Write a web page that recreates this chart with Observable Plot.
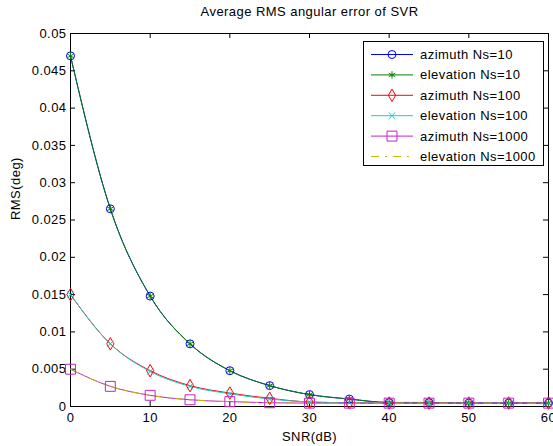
<!DOCTYPE html>
<html><head><meta charset="utf-8">
<script src="https://cdn.jsdelivr.net/npm/d3@7"></script>
<script src="https://cdn.jsdelivr.net/npm/@observablehq/plot@0.6"></script>
<style>body{margin:0;background:#fff} svg text{letter-spacing:0.45px}</style>
</head><body><div id="chart"></div>
<script>
const snr = [0,5,10,15,20,25,30,35,40,45,50,55,60];
const azNs10  = [0.0470,0.0265,0.0148,0.0084,0.0048,0.0028,0.0016,0.0010,0.00054,0.00054,0.00046,0.00046,0.00046];
const elNs10  = [0.0470,0.0265,0.0148,0.0084,0.0048,0.0028,0.0016,0.0010,0.00054,0.00054,0.00046,0.00046,0.00046];
const azNs100 = [0.0150,0.0084,0.0048,0.0028,0.0018,0.0011,0.0006,0.0005,0.00046,0.00046,0.00046,0.00046,0.00046];
const elNs100 = [0.0150,0.0084,0.0047,0.0027,0.0017,0.0010,0.0006,0.0005,0.00046,0.00046,0.00046,0.00046,0.00046];
const azNs1000= [0.0050,0.0027,0.0015,0.0009,0.00065,0.0005,0.00045,0.00045,0.00045,0.00045,0.00045,0.00045,0.00045];
const elNs1000= [0.0050,0.0027,0.0015,0.0009,0.00065,0.0005,0.00045,0.00045,0.00045,0.00045,0.00045,0.00045,0.00045];
const seriesNames = ["azimuth Ns=10","elevation Ns=10","azimuth Ns=100","elevation Ns=100","azimuth Ns=1000","elevation Ns=1000"];
const seriesValues = [azNs10, elNs10, azNs100, elNs100, azNs1000, elNs1000];
const colors = ["#0000ff","#008000","#ff0000","#20c8c8","#c820c8","#bfbf00"];
const symbols = ["circle","asterisk","diamond","times","square",null];
const symR = [4,3.5,3.8,3,5.6,0];
const dashes = [null,null,null,null,null,"8,6,2,6"];
const xTicks = [0,10,20,30,40,50,60];
const yTicks = [0,0.005,0.01,0.015,0.02,0.025,0.03,0.035,0.04,0.045,0.05];
const yTickLabels = ["0","0.005","0.01","0.015","0.02","0.025","0.03","0.035","0.04","0.045","0.05"];
const title = "Average RMS angular error of SVR";
const xLabel = "SNR(dB)";
const yLabel = "RMS(deg)";

const rows = [];
seriesNames.forEach((name, i) => snr.forEach((s, j) => rows.push({series: name, i, snr: s, v: seriesValues[i][j]})));

const font = "Liberation Sans, Arial, sans-serif";
const W = 553, H = 446, mL = 70, mR = 5, mT = 33, mB = 40;
const fw = W - mL - mR, fh = H - mT - mB;

const marks = [
  Plot.frame({stroke: "#000", strokeWidth: 1}),
  Plot.tickX(xTicks, {x: d => d, insetTop: fh - 5, stroke: "#000"}),
  Plot.tickX(xTicks, {x: d => d, insetBottom: fh - 5, stroke: "#000"}),
  Plot.tickY(yTicks, {y: d => d, insetRight: fw - 5, stroke: "#000"}),
  Plot.tickY(yTicks, {y: d => d, insetLeft: fw - 5, stroke: "#000"}),
  Plot.axisX(xTicks, {tickSize: 0, tickPadding: 6, fontSize: 13, label: null, tickFormat: d => String(d)}),
  Plot.axisY(yTicks, {tickSize: 0, tickPadding: 4, fontSize: 13, label: null, tickFormat: (d, k) => yTickLabels[k]}),
  Plot.text([xLabel], {frameAnchor: "bottom", dy: 34, fontSize: 13}),
  Plot.text([yLabel], {frameAnchor: "left", dx: -55, rotate: -90, fontSize: 13}),
  Plot.text([title], {frameAnchor: "top", dy: -27, fontSize: 13}),
];
seriesNames.forEach((name, i) => {
  const d = rows.filter(r => r.i === i);
  marks.push(Plot.line(d, {x: "snr", y: "v", stroke: colors[i], strokeWidth: 1, curve: "monotone-x", strokeDasharray: dashes[i]}));
});
seriesNames.forEach((name, i) => {
  if (!symbols[i]) return;
  const d = rows.filter(r => r.i === i);
  marks.push(Plot.dot(d, {x: "snr", y: "v", stroke: colors[i], symbol: () => symbols[i], r: symR[i], strokeWidth: 1, fill: "none"}));
});

const plot = Plot.plot({
  width: W, height: H, marginLeft: mL, marginRight: mR, marginTop: mT, marginBottom: mB,
  style: {fontFamily: font, fontSize: "13px", background: "#fff", color: "#000", overflow: "visible"},
  x: {domain: [0, 60]},
  y: {domain: [0, 0.05]},
  symbol: {type: "identity"},
  marks
});

const svg = d3.select(plot);
const lg = svg.append("g").attr("font-family", font).attr("font-size", 13).attr("text-anchor", "start");
const lx = 363, ly = 41, lw = 180, lh = 124;
lg.append("rect").attr("x", lx + 0.5).attr("y", ly + 0.5).attr("width", lw).attr("height", lh).attr("fill", "#fff").attr("stroke", "#000");
const symMap = {circle: d3.symbolCircle, asterisk: d3.symbolAsterisk, diamond: d3.symbolDiamond, times: d3.symbolTimes, square: d3.symbolSquare};
seriesNames.forEach((name, i) => {
  const yy = ly + 13.5 + i * 20.4;
  lg.append("line").attr("x1", lx + 8).attr("x2", lx + 50).attr("y1", yy).attr("y2", yy)
    .attr("stroke", colors[i]).attr("stroke-dasharray", dashes[i]);
  if (symbols[i]) {
    lg.append("path").attr("d", d3.symbol(symMap[symbols[i]], Math.PI * symR[i] * symR[i])())
      .attr("transform", `translate(${lx + 29},${yy})`).attr("fill", "none").attr("stroke", colors[i]);
  }
  lg.append("text").attr("x", lx + 57).attr("y", yy).attr("dy", "0.35em").attr("fill", "#000").text(name);
});

document.getElementById("chart").append(plot);
</script></body></html>
